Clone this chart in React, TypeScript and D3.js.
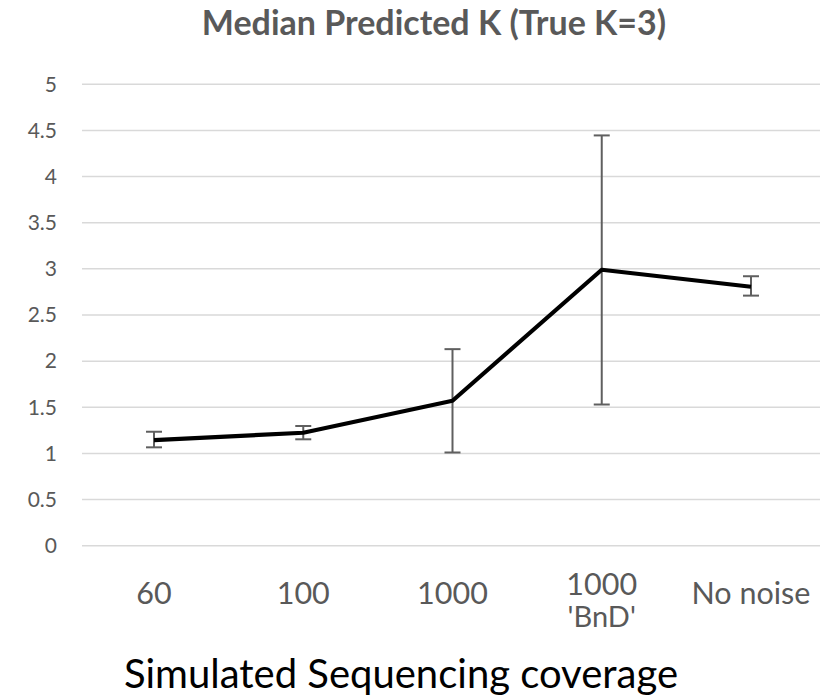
import React, { useEffect, useRef } from 'react'
import * as d3 from 'd3'

// values
const categories = ['60', '100', '1000', "1000\n'BnD'", 'No noise']
const medianK = [1.145, 1.224, 1.571, 2.99, 2.806]
const upperK = [1.235, 1.297, 2.13, 4.446, 2.92]
const lowerK = [1.066, 1.153, 1.01, 1.53, 2.71]
const yTicks = [0, 0.5, 1, 1.5, 2, 2.5, 3, 3.5, 4, 4.5, 5]

const chartTitle = 'Median Predicted K (True K=3)'
const xAxisTitle = 'Simulated Sequencing coverage'

const width = 820
const height = 698
const font = 'Lato, "Open Sans", sans-serif'
const grey = '#595959'

export default function App() {
  const ref = useRef<SVGSVGElement>(null)

  useEffect(() => {
    const svg = d3.select(ref.current)
    svg.selectAll('*').remove()

    const x = d3.scaleBand<string>()
      .domain(categories)
      .range([79.4, 825.6])
    const y = d3.scaleLinear()
      .domain([0, 5])
      .range([545.7, 84.3])
    const cx = (i: number) => (x(categories[i]) as number) + x.bandwidth() / 2

    // gridlines
    svg.append('g')
      .selectAll('line')
      .data(yTicks)
      .enter()
      .append('line')
      .attr('x1', 82)
      .attr('x2', width)
      .attr('y1', (d) => y(d))
      .attr('y2', (d) => y(d))
      .attr('stroke', '#d9d9d9')
      .attr('stroke-width', 1.5)

    // y tick labels
    svg.append('g')
      .selectAll('text')
      .data(yTicks)
      .enter()
      .append('text')
      .attr('x', 57)
      .attr('y', (d) => y(d))
      .attr('dy', '0.35em')
      .attr('text-anchor', 'end')
      .attr('font-family', font)
      .attr('font-size', 21)
      .attr('fill', grey)
      .text((d) => String(d))

    // error bars
    const err = svg.append('g')
      .attr('stroke', '#5f5f5f')
      .attr('stroke-width', 2)
    medianK.forEach((_, i) => {
      const xc = cx(i)
      err.append('line')
        .attr('x1', xc).attr('x2', xc)
        .attr('y1', y(lowerK[i])).attr('y2', y(upperK[i]))
      ;[lowerK[i], upperK[i]].forEach((v) => {
        err.append('line')
          .attr('x1', xc - 8).attr('x2', xc + 8)
          .attr('y1', y(v)).attr('y2', y(v))
      })
    })

    // median line
    const line = d3.line<number>()
      .x((_, i) => cx(i))
      .y((d) => y(d))
    svg.append('path')
      .datum(medianK)
      .attr('d', line)
      .attr('fill', 'none')
      .attr('stroke', '#000')
      .attr('stroke-width', 4.2)
      .attr('stroke-linejoin', 'round')

    // category labels
    const labels = svg.append('g')
      .attr('font-family', font)
      .attr('font-size', 30.5)
      .attr('fill', grey)
      .attr('text-anchor', 'middle')
    categories.forEach((c, i) => {
      const rows = c.split('\n')
      const t = labels.append('text')
        .attr('x', cx(i))
        .attr('y', rows.length > 1 ? 595 : 604)
      rows.forEach((r, j) => {
        t.append('tspan')
          .attr('x', cx(i))
          .attr('dy', j === 0 ? 0 : 32)
          .attr('font-size', j === 0 ? 30.5 : 29)
          .text(r)
      })
    })

    // titles
    svg.append('text')
      .attr('x', 434)
      .attr('y', 35)
      .attr('text-anchor', 'middle')
      .attr('font-family', font)
      .attr('font-weight', 'bold')
      .attr('font-size', 34)
      .attr('fill', grey)
      .text(chartTitle)

    svg.append('text')
      .attr('x', 401)
      .attr('y', 688)
      .attr('text-anchor', 'middle')
      .attr('font-family', font)
      .attr('font-size', 40)
      .attr('fill', '#000')
      .text(xAxisTitle)
  }, [])

  return (
    <svg
      ref={ref}
      width={width}
      height={height}
      style={{ position: 'absolute', left: 0, top: 0, background: '#fff' }}
    />
  )
}
